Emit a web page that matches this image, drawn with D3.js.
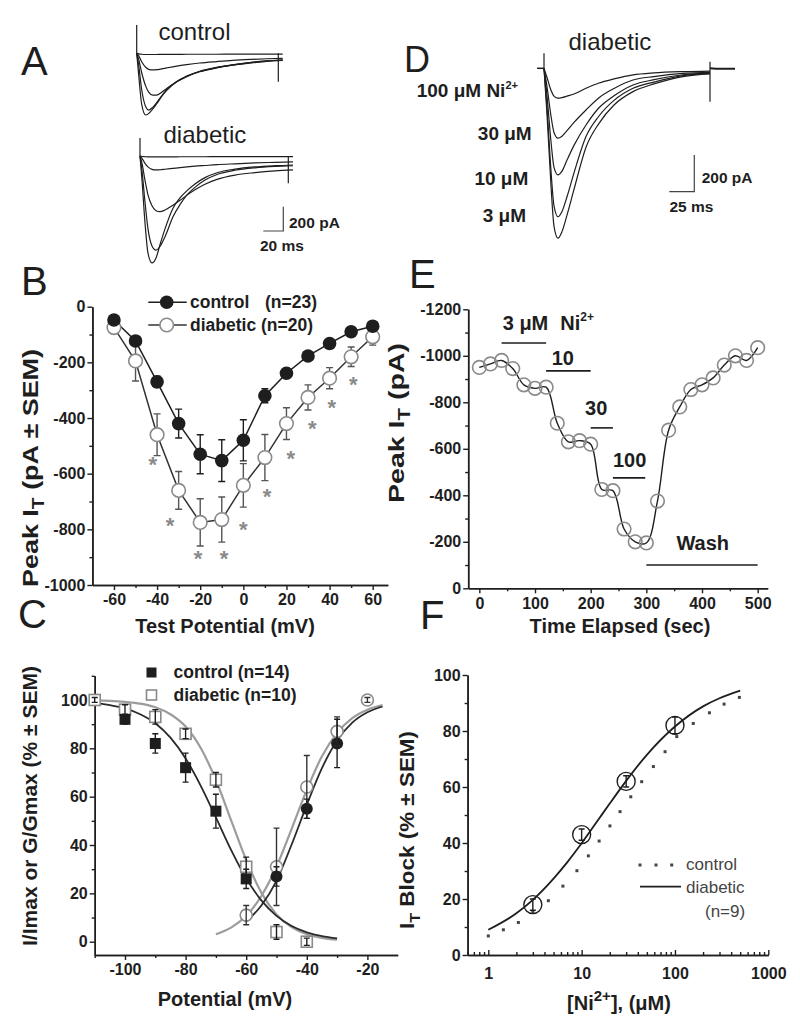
<!DOCTYPE html>
<html><head><meta charset="utf-8">
<script src="https://cdn.jsdelivr.net/npm/d3@7/dist/d3.min.js"></script>
<style>
html,body{margin:0;padding:0;background:#fff}
svg{display:block}
text{font-family:"Liberation Sans",Arial,Helvetica,sans-serif;fill:#1e1e1e}
</style></head><body>
<svg id="fig" width="800" height="1026" viewBox="0 0 800 1026"></svg>
<script>
// ================= DATA =================
// Panel A : T-current traces (time in ms, current in pA)
const aCtrlTime = [0,2,5,9,12,16,20,25,30,40,50,63,80,96,115,130,146];
const aCtrlT1 = [0,-5,-8,-10,-10,-10,-10,-9,-9,-9,-8,-8,-8,-7,-7,-6,-6];
const aCtrlT2 = [0,-20,-70,-115,-132,-137,-135,-128,-120,-105,-93,-80,-68,-58,-50,-45,-42];
const aCtrlT3 = [0,-50,-160,-270,-320,-345,-345,-320,-290,-235,-192,-152,-120,-98,-80,-66,-58];
const aCtrlT4 = [0,-100,-300,-440,-467,-445,-405,-350,-300,-232,-188,-148,-116,-95,-75,-62,-55];
const aCtrlT5 = [0,-180,-420,-508,-495,-460,-415,-355,-305,-235,-190,-150,-118,-96,-75,-62,-55];
const aCtrlArtifactT = [0,141.6];
const aCtrlArtifactPA = [233,-234];
const aDiabTime = [0,2,5,8,12,16,20,25,33,40,47,55,65,77,95,115,135,153];
const aDiabT1 = [0,-4,-6,-7,-7,-7,-7,-7,-7,-6,-6,-6,-6,-5,-5,-5,-5,-5];
const aDiabT2 = [0,-20,-60,-90,-110,-115,-113,-109,-102,-96,-90,-84,-78,-71,-64,-57,-52,-48];
const aDiabT3 = [0,-60,-200,-320,-410,-450,-458,-445,-405,-365,-322,-278,-232,-192,-157,-137,-123,-115];
const aDiabT4 = [0,-120,-380,-600,-740,-774,-745,-665,-500,-400,-320,-258,-198,-152,-117,-97,-86,-80];
const aDiabT5 = [0,-200,-550,-800,-880,-840,-730,-600,-430,-345,-285,-230,-178,-138,-108,-90,-80,-74];
const aDiabArtifactT = [0,148.3];
const aDiabArtifactPA = [148,-225];

// Panel D : Ni2+ block traces (diabetic)
const dTime = [0,3,7,10,14,18,23,30,42,55,70,89,110,139,166];
const dCtrl = [0,-250,-640,-860,-926,-890,-800,-660,-430,-300,-200,-127,-85,-45,-30];
const d3uM = [0,-210,-560,-750,-809,-780,-700,-570,-372,-260,-175,-109,-75,-40,-28];
const d10uM = [0,-150,-400,-540,-581,-560,-500,-420,-309,-215,-150,-91,-62,-35,-26];
const d30uM = [0,-100,-260,-350,-381,-370,-340,-295,-227,-160,-110,-64,-45,-28,-22];
const d100uM = [0,-50,-120,-152,-163,-160,-152,-140,-109,-80,-58,-36,-25,-18,-15];
const dPreTime = [-7,0];
const dTailTime = [166,172,191];
const dTail = [0,-3,-2];
const dArtifactT = [0,166];
const dArtifactTop = [82,36];
const dArtifactBottom = [0,-182];
const dLabels = ["100 \u03bcM Ni", "30 \u03bcM", "10 \u03bcM", "3 \u03bcM"];

// Panel B : I-V relation
const bV = [-60,-50,-40,-30,-20,-10,0,10,20,30,40,50,60];
const bCtrl = [-48,-123,-270,-420,-530,-553,-480,-320,-239,-177,-132,-90,-70];
const bCtrlErr = [8,12,20,52,70,75,74,25,18,14,12,10,8];
const bDiab = [-75,-195,-460,-660,-775,-765,-642,-542,-420,-326,-257,-180,-108];
const bDiabErr = [15,72,75,68,85,81,78,83,57,45,38,35,30];
const bStarV = [-42,-34,-21,-9,0,11,22,32,41,51];
const bStarI = [-550,-770,-890,-890,-785,-665,-530,-420,-345,-265];
const bXTicks = [-60,-40,-20,0,20,40,60];
const bYTicks = [-1000,-800,-600,-400,-200,0];

// Panel C : steady-state inactivation / activation
const cCtrlInactV = [-100,-90,-80,-70,-60];
const cCtrlInact = [92,82,72,54,26];
const cCtrlInactErr = [2,4,6,7,4];
const cDiabInactV = [-110,-100,-90,-80,-70,-60,-50,-40];
const cDiabInact = [100,96,93,86,67,31,4,0];
const cDiabInactErr = [1,2,3,2,3,4,3,1.5];
const cCtrlActV = [-50,-40,-30];
const cCtrlAct = [27,55,82];
const cCtrlActErr = [4,4,10];
const cDiabActV = [-60,-50,-40,-30,-20];
const cDiabAct = [11,31,64,87,100];
const cDiabActErr = [4,16,13,6,1];
const cInactFitV = [-110,-105,-100,-95,-90,-85,-80,-75,-70,-65,-60,-55,-50,-45,-40,-35,-30];
const cCtrlInactFit = [98.8,97.9,96.5,94.1,90.4,84.4,75.8,64.5,51.4,38.0,26.2,17.1,10.7,6.5,3.9,2.3,1.35];
const cDiabInactFit = [99.8,99.6,99.2,98.5,97.0,94.1,89.0,80.1,66.9,50.3,33.8,20.3,11.3,6.0,3.1,1.6,0.8];
const cCtrlActFitV = [-60,-55,-50,-45,-40,-35,-30,-25,-20,-15];
const cCtrlActFit = [8.3,15.0,25.2,40.2,56.6,71.8,83.2,90.6,94.9,97.3];
const cDiabActFitV = [-70,-65,-60,-55,-50,-45,-40,-35,-30,-25,-20,-15];
const cDiabActFit = [3.1,5.8,10.7,18.9,31,46.7,62.8,76.7,86.4,92.5,96.0,97.9];
const cXTicks = [-100,-80,-60,-40,-20];
const cYTicks = [0,20,40,60,80,100];

// Panel E : time course of Ni2+ block
const eTime = [0,20,40,60,80,100,120,140,160,180,200,220,240,260,280,300,320,340,360,380,400,420,440,460,480,500];
const ePeak = [-950,-965,-980,-945,-875,-860,-865,-710,-630,-635,-620,-425,-420,-255,-200,-195,-375,-680,-780,-855,-875,-905,-960,-1000,-980,-1035];
const eBarStart = [40,120,200,240,300];
const eBarEnd = [120,200,240,298,500];
const eBarLevel = [-1055,-935,-690,-475,-100];
const eBarText = ["3 \u03bcM", "10", "30", "100", "Wash"];
const eBarTextT = [42,130,190,240,354];
const eBarTextI = [-1111,-960,-745,-520,-165];
const eXTicks = [0,100,200,300,400,500];
const eYTicks = [0,-200,-400,-600,-800,-1000,-1200];

// Panel F : concentration-response
const fConc = [3,10,30,100];
const fBlock = [18,43,62,82];
const fBlockErr = [2,2,2,3];
const fFitConc = [1,2,3,5,7,10,15,20,30,50,100,200,300,500];
const fFitDiab = [9.0,14.9,19.7,27.3,33.1,39.9,48.2,54.1,62.2,71.5,81.6,88.8,91.7,94.4];
const fCtrlConc = [1,1.45,2.1,3,4.4,6.3,8.9,11.8,15.4,20.1,25.8,33.6,44,58.7,78.3,104.5,157,234,336,490];
const fCtrlFit = [6.8,9,11.6,15.3,19.4,24.6,30.1,35.4,40.7,46.1,51.2,56.5,61.9,67.3,72.6,78,82.7,86.5,89.6,92];
const fXTicks = [1,10,100,1000];
const fYTicks = [0,20,40,60,80,100];

// ================= DRAWING =================
const INK = "#1e1e1e", GREY = "#8a8a8a", LGREY = "#9c9c9c";
const svg = d3.select("#fig");

function text(x, y, s, size, weight, anchor, fill) {
  return svg.append("text").attr("x", x).attr("y", y)
    .attr("font-size", size).attr("font-weight", weight || "normal")
    .attr("text-anchor", anchor || "start").style("fill", fill || INK).text(s);
}
function styleAxis(g) {
  g.select(".domain").attr("stroke", INK).attr("stroke-width", 1.5);
  g.selectAll(".tick line").attr("stroke", INK).attr("stroke-width", 1.4);
  g.selectAll(".tick text").attr("font-size", 16).attr("font-weight", "bold")
    .style("fill", INK).attr("font-family", '"Liberation Sans", Arial, sans-serif');
}
function drawAxes(xs, ys, xMajor, xMinor, yMajor, yMinor, xFmt, opts) {
  opts = opts || {};
  const y0 = ys.range()[0], x0 = xs.range()[0];
  const xin = opts.xIn ? -1 : 1;
  const gxm = svg.append("g").attr("transform", `translate(0,${y0})`)
    .call(d3.axisBottom(xs).tickValues(xMinor).tickSize(3 * xin).tickFormat("").tickSizeOuter(0));
  styleAxis(gxm);
  const gx = svg.append("g").attr("transform", `translate(0,${y0})`)
    .call(d3.axisBottom(xs).tickValues(xMajor).tickSize(5 * xin).tickSizeOuter(0)
      .tickPadding(opts.xIn ? 13 : 4).tickFormat(xFmt || (d => String(d))));
  styleAxis(gx);
  const gym = svg.append("g").attr("transform", `translate(${x0},0)`)
    .call(d3.axisLeft(ys).tickValues(yMinor).tickSize(3).tickFormat("").tickSizeOuter(0));
  styleAxis(gym);
  const gy = svg.append("g").attr("transform", `translate(${x0},0)`)
    .call(d3.axisLeft(ys).tickValues(yMajor).tickSize(5).tickPadding(2).tickSizeOuter(0)
      .tickFormat(d => String(d)));
  styleAxis(gy);
}
function errBars(xs, ys, X, Y, E, color, w) {
  svg.append("g").selectAll("path").data(X.map((x, i) => [x, Y[i], E[i]])).join("path")
    .attr("d", d => {
      const px = xs(d[0]), a = ys(d[1] + d[2]), b = ys(d[1] - d[2]);
      return `M${px - w},${a}H${px + w}M${px},${a}V${b}M${px - w},${b}H${px + w}`;
    })
    .attr("fill", "none").attr("stroke", color).attr("stroke-width", 1.4);
}
function yTitle(x, cy, parts, size, len) {
  const t = svg.append("text").attr("transform", `translate(${x},${cy}) rotate(-90)`)
    .attr("text-anchor", "middle").attr("font-size", size).attr("font-weight", "bold");
  if (len) t.attr("textLength", len).attr("lengthAdjust", "spacingAndGlyphs");
  parts.forEach(p => {
    const s = t.append("tspan").text(p.t);
    if (p.sub) s.attr("font-size", size * 0.72).attr("dy", p.sub);
    if (p.dy) s.attr("dy", p.dy);
  });
  return t;
}
function panelLetter(x, y, s, size) { text(x, y, s, size || 40, "normal"); }

// ----- Panel letters -----
panelLetter(21, 75, "A");
panelLetter(21, 295, "B");
panelLetter(18, 628, "C");
panelLetter(404, 72, "D", 36);
panelLetter(409, 288, "E");
panelLetter(420, 629, "F");

// ----- Panel A -----
function drawTraces(xs, ys, time, traces, width) {
  const line = d3.line().x((d, i) => xs(time[i])).y(d => ys(d)).curve(d3.curveMonotoneX);
  svg.append("g").selectAll("path").data(traces).join("path")
    .attr("d", line).attr("fill", "none").attr("stroke", INK).attr("stroke-width", width || 1.2);
}
function drawArtifacts(xs, ys, T, top, bottom) {
  svg.append("g").selectAll("line").data(T).join("line")
    .attr("x1", (d) => xs(d)).attr("x2", d => xs(d))
    .attr("y1", (d, i) => ys(top[i])).attr("y2", (d, i) => ys(bottom[i]))
    .attr("stroke", INK).attr("stroke-width", 1.2);
}
const xAc = d3.scaleLinear([0, 146], [136.7, 282.7]);
const yAc = d3.scaleLinear([0, -1000], [53.3, 174.8]);
drawTraces(xAc, yAc, aCtrlTime, [aCtrlT1, aCtrlT2, aCtrlT3, aCtrlT4, aCtrlT5]);
drawArtifacts(xAc, yAc, aCtrlArtifactT, [aCtrlArtifactPA[0], 0], [0, aCtrlArtifactPA[1]]);
const xAd = d3.scaleLinear([0, 153], [140, 293]);
const yAd = d3.scaleLinear([0, -1000], [156, 277.5]);
drawTraces(xAd, yAd, aDiabTime, [aDiabT1, aDiabT2, aDiabT3, aDiabT4, aDiabT5]);
drawArtifacts(xAd, yAd, aDiabArtifactT, [aDiabArtifactPA[0], 0], [0, aDiabArtifactPA[1]]);
text(158.5, 40, "control", 24);
text(163.5, 142.7, "diabetic", 24);
// scale bar A : 200 pA, 20 ms
{
  const cx = 283.3, cy = 231;
  const h = yAd(-200) - yAd(0), w = xAd(20) - xAd(0);
  svg.append("path").attr("d", `M${cx - w},${cy}H${cx}V${cy - h}`)
    .attr("fill", "none").attr("stroke", "#444").attr("stroke-width", 1.2);
  text(289, 228, "200 pA", 15.5, "bold");
  text(260, 251, "20 ms", 15.5, "bold");
}

// ----- Panel D -----
const xD = d3.scaleLinear([0, 191], [544, 735]);
const yD = d3.scaleLinear([0, -1000], [68.3, 251.8]);
drawTraces(xD, yD, dTime, [d100uM, d30uM, d10uM, d3uM, dCtrl], 1.2);
svg.append("path").attr("d", d3.line().x(d => xD(d)).y(yD(0))(dPreTime))
  .attr("stroke", INK).attr("stroke-width", 1.5);
svg.append("path").attr("d", d3.line().x((d, i) => xD(dTailTime[i])).y(d => yD(d))(dTail))
  .attr("fill", "none").attr("stroke", INK).attr("stroke-width", 2);
drawArtifacts(xD, yD, dArtifactT, dArtifactTop, dArtifactBottom);
text(568.5, 50, "diabetic", 24);
{
  const t = text(416.7, 96.7, dLabels[0], 19, "bold");
  t.append("tspan").attr("dy", -8).attr("font-size", 11).text("2+");
  text(531.7, 140, dLabels[1], 19, "bold", "end");
  text(528.3, 185, dLabels[2], 19, "bold", "end");
  text(526, 221.7, dLabels[3], 19, "bold", "end");
  const cx = 694.3, cy = 191.7;
  const h = yD(-200) - yD(0), w = xD(25) - xD(0);
  svg.append("path").attr("d", `M${cx - w},${cy}H${cx}V${cy - h}`)
    .attr("fill", "none").attr("stroke", "#444").attr("stroke-width", 1.2);
  text(701.7, 183.3, "200 pA", 15.5, "bold");
  text(669.5, 211.7, "25 ms", 15.5, "bold");
}

// ----- Panel B -----
const xB = d3.scaleLinear([-70, 67], [92.4, 387.8]);
const yB = d3.scaleLinear([-1000, 0], [585, 306.7]);
drawAxes(xB, yB, bXTicks, [-50, -30, -10, 10, 30, 50], bYTicks, [-900, -700, -500, -300, -100]);
{
  const ln = d3.line().x((d, i) => xB(bV[i])).y(d => yB(d));
  svg.append("path").attr("d", ln(bDiab)).attr("fill", "none").attr("stroke", "#333").attr("stroke-width", 1.5);
  svg.append("path").attr("d", ln(bCtrl)).attr("fill", "none").attr("stroke", INK).attr("stroke-width", 1.5);
  errBars(xB, yB, bV, bDiab, bDiabErr, "#555", 3.5);
  errBars(xB, yB, bV, bCtrl, bCtrlErr, INK, 3.5);
  svg.append("g").selectAll("circle").data(bDiab).join("circle")
    .attr("cx", (d, i) => xB(bV[i])).attr("cy", d => yB(d)).attr("r", 6.8)
    .attr("fill", "#fff").attr("stroke", GREY).attr("stroke-width", 1.6);
  svg.append("g").selectAll("circle").data(bCtrl).join("circle")
    .attr("cx", (d, i) => xB(bV[i])).attr("cy", d => yB(d)).attr("r", 6.8)
    .attr("fill", INK);
  svg.append("g").selectAll("text").data(bStarI).join("text")
    .attr("x", (d, i) => xB(bStarV[i])).attr("y", d => yB(d) + 12)
    .attr("text-anchor", "middle").attr("font-size", 22).attr("font-weight", "bold")
    .style("fill", GREY).text("*");
  // legend
  svg.append("line").attr("x1", 148.3).attr("x2", 186.7).attr("y1", 302.3).attr("y2", 302.3).attr("stroke", INK).attr("stroke-width", 1.5);
  svg.append("circle").attr("cx", 166.7).attr("cy", 302.3).attr("r", 6.8).attr("fill", INK);
  svg.append("line").attr("x1", 148.3).attr("x2", 186.7).attr("y1", 325).attr("y2", 325).attr("stroke", "#333").attr("stroke-width", 1.5);
  svg.append("circle").attr("cx", 166.7).attr("cy", 325).attr("r", 6.8).attr("fill", "#fff").attr("stroke", GREY).attr("stroke-width", 1.6);
  const l1 = text(190, 308, "control", 17.5, "bold");
  l1.append("tspan").attr("x", 265).text("(n=23)");
  text(190, 331, "diabetic (n=20)", 17.5, "bold");
  text(225, 633, "Test Potential (mV)", 20, "bold", "middle");
  yTitle(38, 468, [{t: "Peak I"}, {t: "T", sub: 6}, {t: " (pA \u00b1 SEM)", dy: -6}], 22, 238);
}

// ----- Panel E -----
const xE = d3.scaleLinear([-20, 518], [468.2, 767.7]);
const yE = d3.scaleLinear([0, -1200], [588.3, 309.3]);
drawAxes(xE, yE, eXTicks, [50, 150, 250, 350, 450], eYTicks, [-100, -300, -500, -700, -900, -1100]);
{
  const ln = d3.line().x((d, i) => xE(eTime[i])).y(d => yE(d)).curve(d3.curveCatmullRom.alpha(0.5));
  svg.append("path").attr("d", ln(ePeak)).attr("fill", "none").attr("stroke", INK).attr("stroke-width", 1.4);
  svg.append("g").selectAll("circle").data(ePeak).join("circle")
    .attr("cx", (d, i) => xE(eTime[i])).attr("cy", d => yE(d)).attr("r", 6.8)
    .attr("fill", "none").attr("stroke", GREY).attr("stroke-width", 1.6);
  svg.append("g").selectAll("line").data(eBarLevel).join("line")
    .attr("x1", (d, i) => xE(eBarStart[i])).attr("x2", (d, i) => xE(eBarEnd[i]))
    .attr("y1", d => yE(d)).attr("y2", d => yE(d)).attr("stroke", INK).attr("stroke-width", 1.6);
  eBarText.forEach((s, i) => {
    const t = text(xE(eBarTextT[i]), yE(eBarTextI[i]), s, 20, "bold");
    if (i === 0) {
      t.append("tspan").attr("dx", 12).text("Ni");
      t.append("tspan").attr("dy", -9).attr("font-size", 12).text("2+");
    }
  });
  text(620, 633, "Time Elapsed (sec)", 20, "bold", "middle");
  yTitle(404, 423, [{t: "Peak I"}, {t: "T", sub: 6}, {t: " (pA)", dy: -6}], 22, 160);
}

// ----- Panel C -----
const xC = d3.scaleLinear([-110, -10], [94.7, 397.7]);
const yC = d3.scaleLinear([-5.5, 110], [955, 675.8]);
drawAxes(xC, yC, cXTicks, [-110, -90, -70, -50, -30], cYTicks, [10, 30, 50, 70, 90, 110]);
{
  const fit = (V) => d3.line().x((d, i) => xC(V[i])).y(d => yC(d)).curve(d3.curveMonotoneX);
  svg.append("path").attr("d", fit(cInactFitV)(cDiabInactFit)).attr("fill", "none").attr("stroke", LGREY).attr("stroke-width", 2.2);
  svg.append("path").attr("d", fit(cDiabActFitV)(cDiabActFit)).attr("fill", "none").attr("stroke", LGREY).attr("stroke-width", 2.2);
  svg.append("path").attr("d", fit(cInactFitV)(cCtrlInactFit)).attr("fill", "none").attr("stroke", "#2a2a2a").attr("stroke-width", 1.8);
  svg.append("path").attr("d", fit(cCtrlActFitV)(cCtrlActFit)).attr("fill", "none").attr("stroke", "#2a2a2a").attr("stroke-width", 1.8);
  const S = 11;
  svg.append("g").selectAll("rect").data(cDiabInact).join("rect")
    .attr("x", (d, i) => xC(cDiabInactV[i]) - S / 2).attr("y", d => yC(d) - S / 2)
    .attr("width", S).attr("height", S).attr("fill", "#fff").attr("stroke", GREY).attr("stroke-width", 1.6);
  svg.append("g").selectAll("circle").data(cDiabAct).join("circle")
    .attr("cx", (d, i) => xC(cDiabActV[i])).attr("cy", d => yC(d)).attr("r", 6)
    .attr("fill", "#fff").attr("stroke", GREY).attr("stroke-width", 1.6);
  svg.append("g").selectAll("rect").data(cCtrlInact).join("rect")
    .attr("x", (d, i) => xC(cCtrlInactV[i]) - S / 2).attr("y", d => yC(d) - S / 2)
    .attr("width", S).attr("height", S).attr("fill", INK);
  svg.append("g").selectAll("circle").data(cCtrlAct).join("circle")
    .attr("cx", (d, i) => xC(cCtrlActV[i])).attr("cy", d => yC(d)).attr("r", 6)
    .attr("fill", INK);
  errBars(xC, yC, cDiabInactV, cDiabInact, cDiabInactErr, INK, 3);
  errBars(xC, yC, cDiabActV, cDiabAct, cDiabActErr, "#333", 3);
  errBars(xC, yC, cCtrlInactV, cCtrlInact, cCtrlInactErr, INK, 3);
  errBars(xC, yC, cCtrlActV, cCtrlAct, cCtrlActErr, INK, 3);
  // legend
  svg.append("rect").attr("x", 146.5).attr("y", 667.5).attr("width", 10).attr("height", 10).attr("fill", INK);
  svg.append("rect").attr("x", 146.5).attr("y", 690).attr("width", 10).attr("height", 10).attr("fill", "#fff").attr("stroke", GREY).attr("stroke-width", 1.6);
  text(173.5, 678, "control (n=14)", 17.5, "bold");
  text(173.5, 700.5, "diabetic (n=10)", 17.5, "bold");
  text(225, 1006, "Potential (mV)", 20, "bold", "middle");
  yTitle(36.5, 806, [{t: "I/Imax or G/Gmax (% \u00b1 SEM)"}], 21);
}

// ----- Panel F -----
const xF = d3.scaleLog([0.6, 1000], [467.6, 768.3]);
const yF = d3.scaleLinear([0, 100], [955, 675]);
{
  const minor = [];
  [0.1, 1, 10, 100].forEach(dec => d3.range(2, 10).forEach(k => { const v = dec * k; if (v > 0.6 && v < 1000) minor.push(v); }));
  drawAxes(xF, yF, fXTicks, minor, fYTicks, [10, 30, 50, 70, 90], d => String(d), {xIn: true});
  svg.append("path").attr("d", d3.line().x((d, i) => xF(fFitConc[i])).y(d => yF(d)).curve(d3.curveMonotoneX)(fFitDiab))
    .attr("fill", "none").attr("stroke", INK).attr("stroke-width", 1.8);
  svg.append("g").selectAll("rect").data(fCtrlFit).join("rect")
    .attr("x", (d, i) => xF(fCtrlConc[i]) - 1.5).attr("y", d => yF(d) - 1.5)
    .attr("width", 3).attr("height", 3).attr("fill", "#444");
  errBars(xF, yF, fConc, fBlock, fBlockErr, INK, 3);
  svg.append("g").selectAll("circle").data(fBlock).join("circle")
    .attr("cx", (d, i) => xF(fConc[i])).attr("cy", d => yF(d)).attr("r", 9)
    .attr("fill", "none").attr("stroke", INK).attr("stroke-width", 1.4);
  // legend
  [640, 656, 671.7].forEach(x => svg.append("rect").attr("x", x - 1.5).attr("y", 863.5).attr("width", 3).attr("height", 3).attr("fill", "#444"));
  svg.append("line").attr("x1", 640).attr("x2", 681).attr("y1", 886.7).attr("y2", 886.7).attr("stroke", INK).attr("stroke-width", 1.8);
  text(686, 869.5, "control", 17, "normal", "start", "#444");
  text(686, 893, "diabetic", 17, "normal", "start", "#444");
  text(705, 917, "(n=9)", 17, "normal", "start", "#444");
  const t = text(619, 1010, "[Ni", 20, "bold", "middle");
  t.append("tspan").attr("dy", -9).attr("font-size", 15).text("2+");
  t.append("tspan").attr("dy", 9).text("], (\u03bcM)");
  yTitle(414, 830, [{t: "I"}, {t: "T", sub: 6}, {t: " Block (% \u00b1 SEM)", dy: -6}], 21, 198);
}
</script></body></html>
